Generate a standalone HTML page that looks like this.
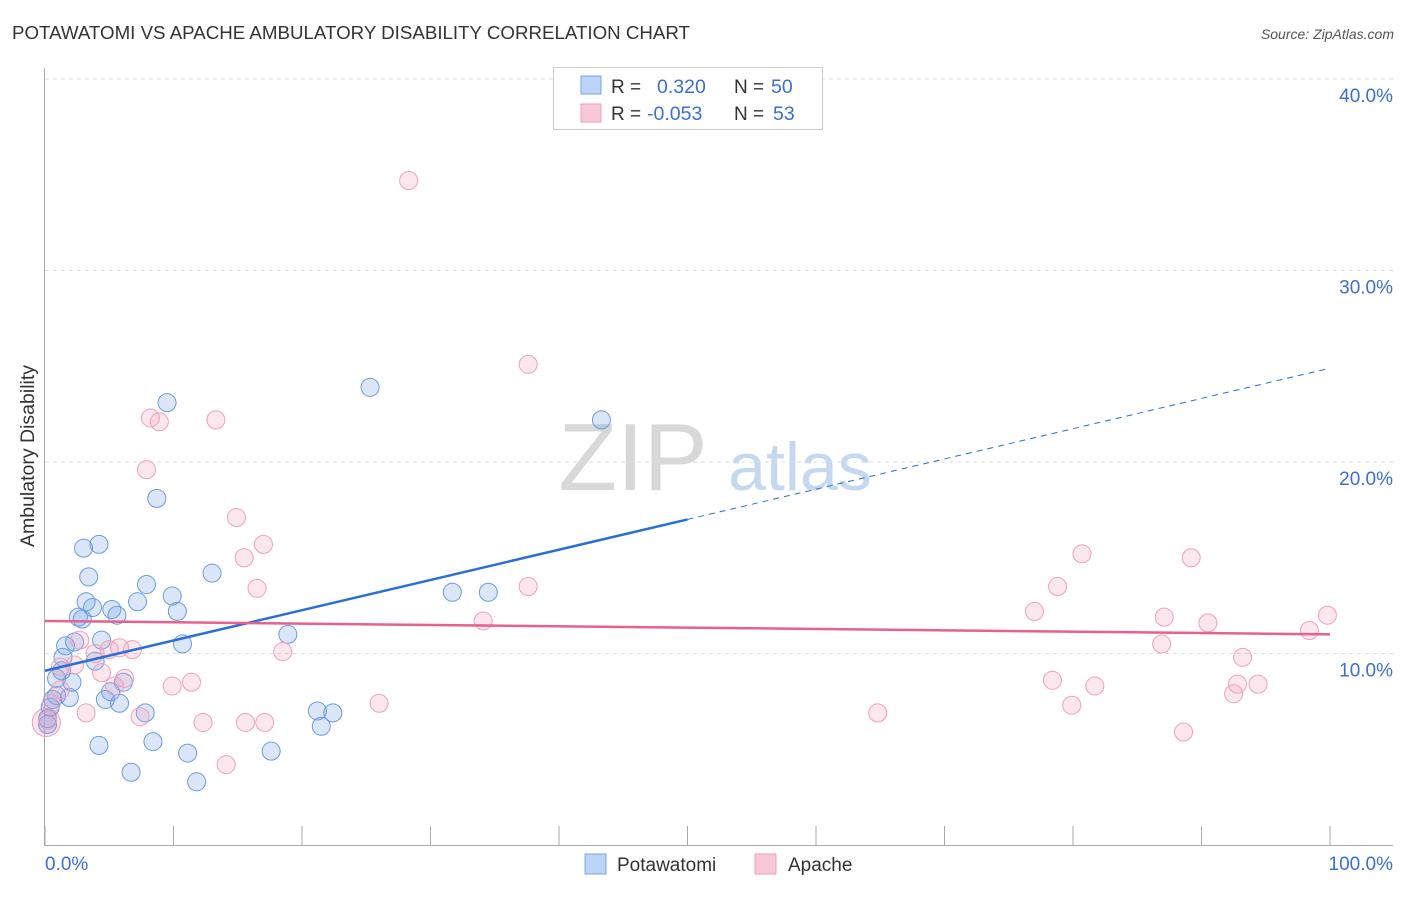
<!DOCTYPE html>
<html><head><meta charset="utf-8"><style>
body{margin:0;background:#fff;font-family:"Liberation Sans",sans-serif}
svg text{font-family:"Liberation Sans",sans-serif}
</style></head><body>
<svg width="1406" height="892" viewBox="0 0 1406 892" id="chart">
<text x="12" y="39" font-size="18" fill="#333" textLength="678" lengthAdjust="spacingAndGlyphs">POTAWATOMI VS APACHE AMBULATORY DISABILITY CORRELATION CHART</text>
<text x="1394" y="39" font-size="14" fill="#555" font-style="italic" text-anchor="end">Source: ZipAtlas.com</text>
<text x="34" y="456" font-size="19.5" fill="#333" text-anchor="middle" transform="rotate(-90 34 456)">Ambulatory Disability</text>
<text x="633" y="490" font-size="96" fill="#d8d8d8" font-family="Liberation Serif" text-anchor="middle">ZIP</text>
<text x="800" y="490" font-size="68" fill="#c5d8f2" text-anchor="middle">atlas</text>
<g id="grid"></g><g id="axes"></g><g id="pts"></g><g id="trend"></g>
<g>
<rect x="553.5" y="67.5" width="269" height="62" fill="#fff" stroke="#ccc"/>
<rect x="581" y="76" width="20" height="18" fill="#bcd4f5" stroke="#7aa5e6"/>
<rect x="581" y="104" width="20" height="18" fill="#f9c8d7" stroke="#ef9fb8"/>
<text x="611" y="93" font-size="19" fill="#333">R = </text><text x="657" y="93" font-size="19.5" fill="#3d6fd0">0.320</text>
<text x="734" y="93" font-size="19" fill="#333">N = </text><text x="771" y="93" font-size="19.5" fill="#3d6fd0">50</text>
<text x="611" y="120" font-size="19" fill="#333">R = </text><text x="647" y="120" font-size="19.5" fill="#3d6fd0">-0.053</text>
<text x="734" y="120" font-size="19" fill="#333">N = </text><text x="773" y="120" font-size="19.5" fill="#3d6fd0">53</text>
</g>
<g>
<rect x="585" y="854" width="21" height="20" fill="#bcd4f5" stroke="#7aa5e6"/>
<text x="617" y="871" font-size="19" fill="#333">Potawatomi</text>
<rect x="755" y="854" width="21" height="20" fill="#f9c8d7" stroke="#ef9fb8"/>
<text x="788" y="871" font-size="19" fill="#333">Apache</text>
</g>
</svg>
<script>
const blueX=[9.5,8.7,4.2,3.0,3.4,7.9,13.0,3.2,3.7,7.2,9.9,5.2,5.6,10.3,2.6,2.9,18.9,10.7,4.4,1.6,2.3,1.4,3.9,1.3,0.9,2.1,6.1,5.1,1.9,4.7,5.8,0.6,0.4,0.2,7.8,21.2,22.4,21.5,4.2,8.4,11.1,17.6,6.7,11.8,25.3,43.3,31.7,34.5,0.2,0.9];
const blueY=[23.1,18.1,15.7,15.5,14.0,13.6,14.2,12.7,12.4,12.7,13.0,12.3,12.0,12.2,11.9,11.8,11.0,10.5,10.7,10.4,10.6,9.8,9.6,9.1,8.7,8.5,8.5,8.0,7.7,7.6,7.4,7.6,7.2,6.6,6.9,7.0,6.9,6.2,5.2,5.4,4.8,4.9,3.8,3.3,23.9,22.2,13.2,13.2,6.3,7.8];
const pinkX=[28.3,37.6,8.2,8.9,13.3,7.9,14.9,15.5,17.0,16.5,37.6,34.1,2.7,5.0,5.8,6.8,3.9,2.3,1.2,4.4,6.2,5.4,3.2,1.2,0.5,0.2,9.9,11.4,18.5,26.0,12.3,15.6,17.1,7.4,14.1,64.8,80.7,78.8,77.0,87.1,89.2,90.5,86.9,93.2,78.4,81.7,79.9,92.8,92.5,94.4,88.6,98.4,99.8];
const pinkY=[34.7,25.1,22.3,22.1,22.2,19.6,17.1,15.0,15.7,13.4,13.5,11.7,10.7,10.2,10.3,10.2,10.0,9.4,9.3,9.0,8.7,8.3,6.9,8.1,7.4,6.5,8.3,8.5,10.1,7.4,6.4,6.4,6.4,6.7,4.2,6.9,15.2,13.5,12.2,11.9,15.0,11.6,10.5,9.8,8.6,8.3,7.3,8.4,7.9,8.4,5.9,11.2,12.0];
const yTicks=[10,20,30,40];
const yTickLabels=["10.0%","20.0%","30.0%","40.0%"];
const xTicks=[0,10,20,30,40,50,60,70,80,90,100];
const blueTrend=[9.1,24.9];
const pinkTrend=[11.7,11.0];
const blueSolidEnd=50;
const NS="http://www.w3.org/2000/svg";
const sx=v=>45+v*12.85, sy=v=>845-v*19.15;
function mk(p,t,a){const e=document.createElementNS(NS,t);for(const k in a)e.setAttribute(k,a[k]);p.appendChild(e);return e;}
const grid=document.getElementById('grid'),axes=document.getElementById('axes'),pts=document.getElementById('pts'),tr=document.getElementById('trend');
yTicks.forEach((v,i)=>{
 const l=mk(grid,'line',{x1:45,x2:1393,y1:sy(v),y2:sy(v),stroke:'#ddd','stroke-dasharray':'4 4'});
 
 
 const t=mk(grid,'text',{x:1393,y:sy(v)+23,'font-size':19,fill:'#3d6fd0','text-anchor':'end'});
 t.textContent=yTickLabels[i];
 
 
});
const ya=mk(axes,'line',{x1:44.5,x2:44.5,y1:68,y2:845,stroke:'#aaa'});


const xa=mk(axes,'line',{x1:44,x2:1393,y1:845.5,y2:845.5,stroke:'#aaa'});


xTicks.forEach(v=>{
 const t=mk(axes,'line',{x1:sx(v),x2:sx(v),y1:826,y2:845,stroke:'#aaa'});
 
 
});
const x0=mk(axes,'text',{x:45,y:870,'font-size':19,fill:'#3d6fd0'});x0.textContent='0.0%';


const x1=mk(axes,'text',{x:1393,y:870,'font-size':19,fill:'#3d6fd0','text-anchor':'end'});x1.textContent='100.0%';


const big=mk(pts,'circle',{cx:sx(0.1),cy:sy(6.4),r:14,fill:'rgba(240,150,180,0.25)',stroke:'#f0a0b8'});


blueX.forEach((v,i)=>{
 const c=mk(pts,'circle',{cx:sx(v),cy:sy(blueY[i]),r:9,fill:'rgba(110,160,230,0.25)',stroke:'#6a9be0','stroke-width':1});
 
 
});
pinkX.forEach((v,i)=>{
 const c=mk(pts,'circle',{cx:sx(v),cy:sy(pinkY[i]),r:9,fill:'rgba(245,160,190,0.25)',stroke:'#f0a0b8','stroke-width':1});
 
 
});
const bAt=x=>blueTrend[0]+(blueTrend[1]-blueTrend[0])*x/100;
const bl=mk(tr,'line',{x1:sx(0),y1:sy(bAt(0)),x2:sx(blueSolidEnd),y2:sy(bAt(blueSolidEnd)),stroke:'#2a6fd6','stroke-width':2.5});


const bd=mk(tr,'line',{x1:sx(blueSolidEnd),y1:sy(bAt(blueSolidEnd)),x2:sx(100),y2:sy(bAt(100)),stroke:'#2a6fd6','stroke-width':1,'stroke-dasharray':'6 5'});


const pl=mk(tr,'line',{x1:sx(0),y1:sy(pinkTrend[0]),x2:sx(100),y2:sy(pinkTrend[1]),stroke:'#e8608e','stroke-width':2.5});


</script>
</body></html>
